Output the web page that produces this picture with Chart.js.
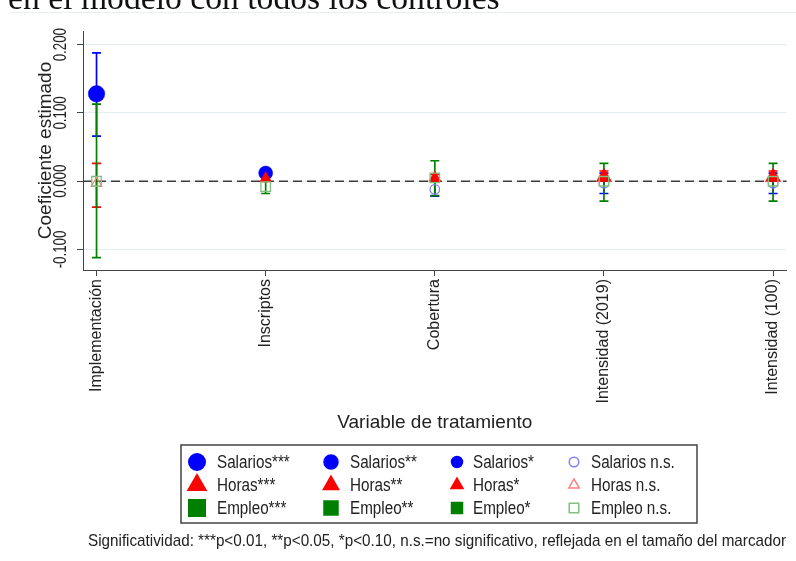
<!DOCTYPE html>
<html>
<head>
<meta charset="utf-8">
<script src="https://cdn.jsdelivr.net/npm/chart.js@4.4.0/dist/chart.umd.min.js"></script>
<style>
  html, body { margin: 0; padding: 0; background: #fff; }
  #wrap { position: relative; width: 796px; height: 561px; }
</style>
</head>
<body>
<div id="wrap"><canvas id="coefChart"></canvas></div>
<script>
const categories = ["Implementación", "Inscriptos", "Cobertura", "Intensidad (2019)", "Intensidad (100)"];

// coeficientes e intervalos de confianza
const salarios = [0.128, 0.012, -0.012, -0.003, -0.003];
const salariosLo = [0.066, 0.006, -0.022, -0.018, -0.018];
const salariosHi = [0.188, 0.018, 0.002, 0.012, 0.012];
const salariosSig = ["***", "**", "ns", "ns", "ns"];

const horas = [-0.003, 0.004, 0.005, 0.006, 0.006];
const horasLo = [-0.038, 0.000, 0.000, 0.001, 0.001];
const horasHi = [0.026, 0.008, 0.010, 0.015, 0.015];
const horasSig = ["ns", "*", "*", "**", "**"];

const empleo = [0.000, -0.008, 0.005, 0.000, 0.000];
const empleoLo = [-0.112, -0.018, -0.021, -0.029, -0.029];
const empleoHi = [0.113, 0.001, 0.030, 0.026, 0.026];
const empleoSig = ["ns", "ns", "ns", "ns", "ns"];

const yTicks = [0.2, 0.1, 0, -0.1];
const yTickLabels = ["0.200", "0.100", "0.000", "-0.100"];
const sigLevels = ["***", "**", "*", "ns"];
const sigSuffix = ["***", "**", "*", " n.s."];

const SANS = "'Liberation Sans', Arial, sans-serif";
const markerSize = { "***": 16.5, "**": 14, "*": 11, "ns": 9.5 };

const series = [
  { name: "Salarios", style: "circle", color: "#0000ff", light: "#8080ff", vals: salarios, lo: salariosLo, hi: salariosHi, sig: salariosSig },
  { name: "Horas", style: "triangle", color: "#ff0000", light: "#ff8080", vals: horas, lo: horasLo, hi: horasHi, sig: horasSig },
  { name: "Empleo", style: "rect", color: "#008000", light: "#80c080", vals: empleo, lo: empleoLo, hi: empleoHi, sig: empleoSig },
];

function radiusFor(style, sig) {
  const s = markerSize[sig];
  if (style === "rect") return (s / 2) * Math.SQRT2;
  if (style === "triangle") return (s * 1.1) / Math.sqrt(3);
  return s / 2;
}

function fillFor(s, sig) { return sig === "ns" ? "rgba(0,0,0,0)" : s.color; }
function strokeFor(s, sig) { return sig === "ns" ? s.light : s.color; }

const datasets = series.map((s, k) => ({
  label: s.name,
  data: categories.map((c, i) => ({ x: i, y: s.vals[i] })),
  pointStyle: s.style,
  pointRadius: (ctx) => radiusFor(s.style, s.sig[ctx.dataIndex]),
  pointBackgroundColor: (ctx) => fillFor(s, s.sig[ctx.dataIndex]),
  pointBorderColor: (ctx) => strokeFor(s, s.sig[ctx.dataIndex]),
  pointBorderWidth: (ctx) => (s.sig[ctx.dataIndex] === "ns" ? 1.3 : 0.5),
  showLine: false,
  order: series.length - k,
}));

function drawMarker(ctx, style, sig, s, x, y) {
  ctx.save();
  ctx.fillStyle = fillFor(s, sig);
  ctx.strokeStyle = strokeFor(s, sig);
  Chart.helpers.drawPoint(ctx, {
    pointStyle: style,
    radius: radiusFor(style, sig),
    rotation: 0,
    borderWidth: sig === "ns" ? 1.3 : 0.5,
  }, x, y);
  ctx.restore();
}

// texto estrecho (el original usa una Helvetica condensada)
function narrowText(ctx, text, x, y, size, sx, align, rot) {
  ctx.save();
  ctx.font = size + "px " + SANS;
  ctx.textAlign = align;
  ctx.textBaseline = "middle";
  ctx.translate(x, y);
  if (rot) ctx.rotate(rot);
  ctx.scale(sx, 1);
  ctx.fillText(text, 0, 0);
  ctx.restore();
}

function fitFont(ctx, text, family, targetW) {
  ctx.font = "100px " + family;
  return (100 * targetW) / ctx.measureText(text).width;
}

const decor = {
  id: "decor",
  beforeDatasetsDraw(chart) {
    const { ctx, chartArea, scales } = chart;
    const x = scales.x, y = scales.y;
    ctx.save();
    // linea de cero
    const y0 = y.getPixelForValue(0);
    ctx.strokeStyle = "#3a3a3a";
    ctx.lineWidth = 1.3;
    ctx.setLineDash([9, 5]);
    ctx.beginPath();
    ctx.moveTo(chartArea.left, y0);
    ctx.lineTo(chartArea.right, y0);
    ctx.stroke();
    ctx.setLineDash([]);
    // intervalos
    series.forEach((s) => {
      ctx.strokeStyle = s.color;
      ctx.lineWidth = 1.7;
      categories.forEach((c, i) => {
        const px = x.getPixelForValue(i);
        const top = y.getPixelForValue(s.hi[i]);
        const bot = y.getPixelForValue(s.lo[i]);
        ctx.beginPath();
        ctx.moveTo(px, top); ctx.lineTo(px, bot);
        ctx.moveTo(px - 4.5, top); ctx.lineTo(px + 4.5, top);
        ctx.moveTo(px - 4.5, bot); ctx.lineTo(px + 4.5, bot);
        ctx.stroke();
      });
    });
    ctx.restore();
  },
  afterDraw(chart) {
    const { ctx, scales } = chart;
    ctx.save();
    // etiquetas del eje y, giradas
    ctx.fillStyle = "#222";
    yTicks.forEach((v, i) => {
      narrowText(ctx, yTickLabels[i], 61, scales.y.getPixelForValue(v), 19, 0.7, "center", -Math.PI / 2);
    });

    // titulo recortado arriba
    const head = "en el modelo con todos los controles";
    const serif = "'Liberation Serif', 'DejaVu Serif', serif";
    const hs = fitFont(ctx, head, serif, 492);
    ctx.font = hs + "px " + serif;
    ctx.textAlign = "left";
    ctx.textBaseline = "alphabetic";
    ctx.fillStyle = "#111";
    ctx.fillText(head, 8, 9);

    // marco tenue
    ctx.strokeStyle = "#e9eef0";
    ctx.lineWidth = 1;
    ctx.beginPath();
    ctx.moveTo(10, 12.5); ctx.lineTo(796, 12.5);
    ctx.stroke();

    // leyenda
    const lx = 181, ly = 445, lw = 516, lh = 78;
    ctx.fillStyle = "#fff";
    ctx.fillRect(lx, ly, lw, lh);
    ctx.strokeStyle = "#444";
    ctx.lineWidth = 1.5;
    ctx.strokeRect(lx, ly, lw, lh);
    const markX = [197, 331, 457, 574];
    const textX = [217, 350, 473, 591];
    const rowY = [462, 485, 508];
    series.forEach((s, r) => {
      sigLevels.forEach((sig, c) => {
        drawMarker(ctx, s.style, sig, s, markX[c], rowY[r]);
        ctx.fillStyle = "#222";
        narrowText(ctx, s.name + sigSuffix[c], textX[c], rowY[r] + 1, 17.5, 0.87, "left");
      });
    });

    // nota
    const note = "Significatividad: ***p<0.01, **p<0.05, *p<0.10, n.s.=no significativo, reflejada en el tamaño del marcador";
    ctx.font = "17px " + SANS;
    const sx = 698 / ctx.measureText(note).width;
    ctx.fillStyle = "#222";
    narrowText(ctx, note, 437, 541, 17, sx, "center");
    ctx.restore();
  },
};

new Chart(document.getElementById("coefChart"), {
  type: "scatter",
  data: { datasets: datasets },
  options: {
    responsive: true,
    maintainAspectRatio: false,
    animation: false,
    events: [],
    layout: { padding: { top: 31, right: 6, bottom: 121, left: 0 } },
    plugins: { legend: { display: false }, tooltip: { enabled: false } },
    scales: {
      x: {
        type: "linear",
        min: -0.08,
        max: 4.08,
        afterBuildTicks: (s) => { s.ticks = categories.map((c, i) => ({ value: i })); },
        afterFit: (s) => { s.height = 170; },
        ticks: {
          autoSkip: false,
          minRotation: 90,
          maxRotation: 90,
          padding: 3,
          color: "#222",
          font: { family: SANS, size: 16 },
          callback: (v) => categories[v],
        },
        grid: { drawOnChartArea: false, drawTicks: true, tickLength: 6, tickColor: "#444" },
        border: { color: "#444", width: 1 },
        title: {
          display: true,
          text: "Variable de tratamiento",
          color: "#222",
          font: { family: SANS, size: 19 },
          padding: { top: 0, bottom: 6 },
        },
      },
      y: {
        min: -0.13,
        max: 0.22,
        afterBuildTicks: (s) => { s.ticks = yTicks.map((v) => ({ value: v })); },
        afterFit: (s) => { s.width = 83; },
        ticks: { display: false },
        grid: { color: "#e4edf0", lineWidth: 1, drawTicks: true, tickLength: 6, tickColor: "#444" },
        border: { color: "#444", width: 1 },
        title: {
          display: true,
          text: "Coeficiente estimado",
          color: "#222",
          font: { family: SANS, size: 19 },
          padding: { top: 34, bottom: 0 },
        },
      },
    },
  },
  plugins: [decor],
});
</script>
</body>
</html>
